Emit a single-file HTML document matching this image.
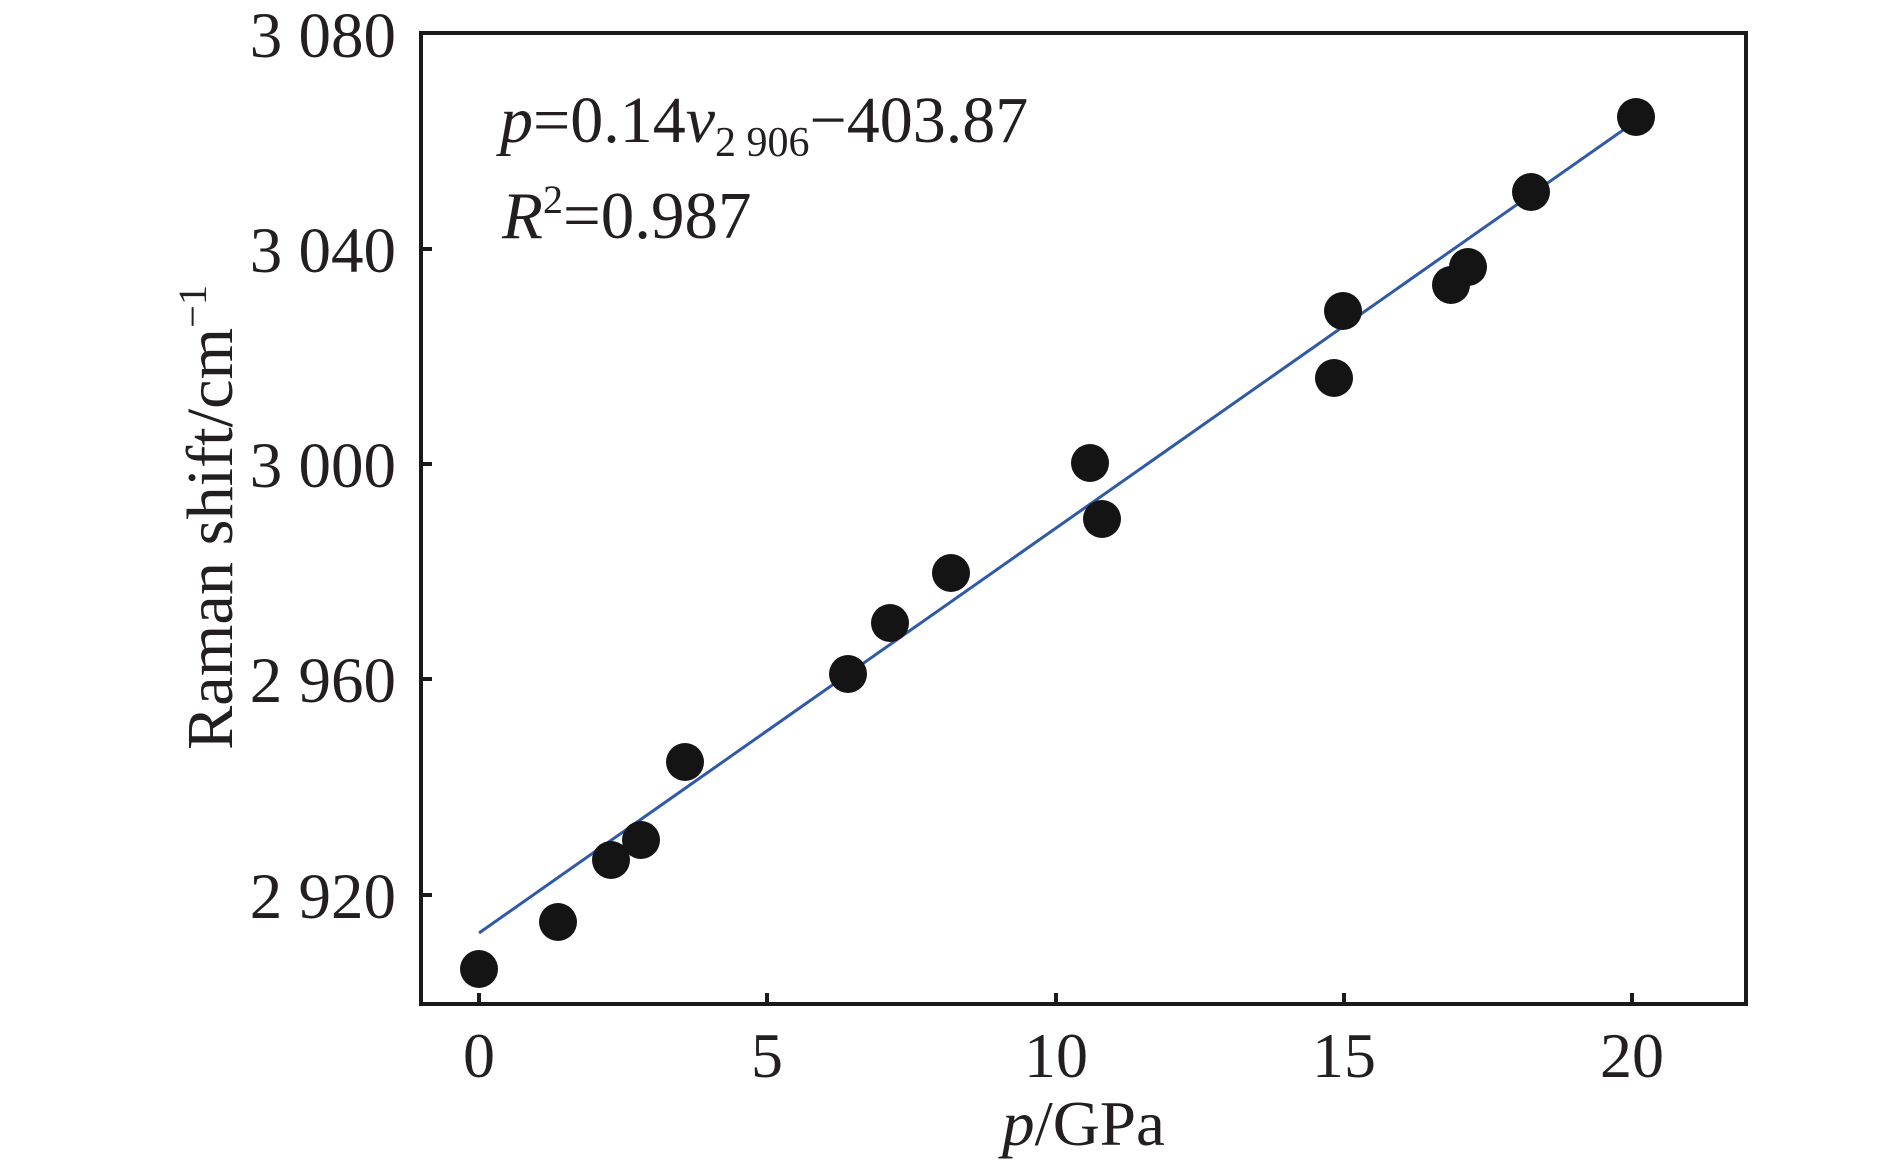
<!DOCTYPE html>
<html><head><meta charset="utf-8"><style>html,body{margin:0;padding:0;background:#fff}svg{display:block}</style></head>
<body>
<svg width="1890" height="1172" viewBox="0 0 1890 1172" xmlns="http://www.w3.org/2000/svg" font-family="'Liberation Serif', serif" fill="#231f20">
<rect x="421" y="33" width="1325" height="971" fill="none" stroke="#1a1a1a" stroke-width="4"/>
<g stroke="#1a1a1a" stroke-width="4">
<line x1="479" y1="1004" x2="479" y2="993"/>
<line x1="767" y1="1004" x2="767" y2="993"/>
<line x1="1056" y1="1004" x2="1056" y2="993"/>
<line x1="1344" y1="1004" x2="1344" y2="993"/>
<line x1="1632" y1="1004" x2="1632" y2="993"/>
<line x1="421" y1="895" x2="432" y2="895"/>
<line x1="421" y1="679" x2="432" y2="679"/>
<line x1="421" y1="464" x2="432" y2="464"/>
<line x1="421" y1="249" x2="432" y2="249"/>
</g>
<g font-size="64" text-anchor="middle">
<text x="479" y="1077">0</text>
<text x="767" y="1077">5</text>
<text x="1056" y="1077">10</text>
<text x="1344" y="1077">15</text>
<text x="1632" y="1077">20</text>
</g>
<g font-size="65" text-anchor="end">
<text x="396" y="918">2 920</text>
<text x="396" y="702">2 960</text>
<text x="396" y="487">3 000</text>
<text x="396" y="272">3 040</text>
<text x="396" y="57">3 080</text>
</g>
<text x="1002" y="1145" font-size="64" textLength="163" lengthAdjust="spacingAndGlyphs"><tspan font-style="italic">p</tspan>/GPa</text>
<text transform="translate(232,750) rotate(-90)" font-size="66" textLength="465" lengthAdjust="spacingAndGlyphs">Raman shift/cm<tspan font-size="40" dy="-26">−1</tspan></text>
<text x="500" y="142" font-size="66"><tspan font-style="italic">p</tspan>=0.14<tspan font-style="italic">v</tspan><tspan font-size="42" dy="14">2 906</tspan><tspan dy="-14">−403.87</tspan></text>
<text x="502" y="238" font-size="67"><tspan font-style="italic">R</tspan><tspan font-size="40" dy="-25">2</tspan><tspan dy="25">=0.987</tspan></text>
<line x1="479" y1="933" x2="1636" y2="121" stroke="#2f5aa8" stroke-width="3"/>
<g fill="#141414">
<circle cx="479" cy="969" r="19"/>
<circle cx="558" cy="922" r="19"/>
<circle cx="611" cy="860" r="19"/>
<circle cx="641" cy="840" r="19"/>
<circle cx="685" cy="762" r="19"/>
<circle cx="848" cy="674" r="19"/>
<circle cx="890" cy="623" r="19"/>
<circle cx="951" cy="573" r="19"/>
<circle cx="1090" cy="463" r="19"/>
<circle cx="1102" cy="519" r="19"/>
<circle cx="1334" cy="378" r="19"/>
<circle cx="1343" cy="311" r="19"/>
<circle cx="1451" cy="285" r="19"/>
<circle cx="1468" cy="267" r="19"/>
<circle cx="1531" cy="192" r="19"/>
<circle cx="1636" cy="117" r="19"/>
</g>
</svg>
</body></html>
